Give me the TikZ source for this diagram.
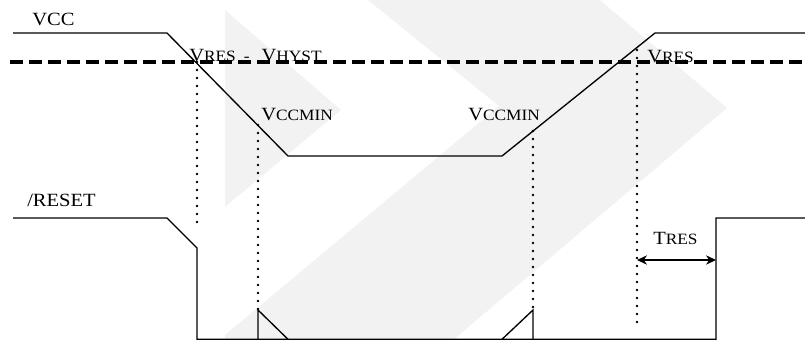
\documentclass[tikz,border=0pt]{standalone}
\usepackage{fontspec}
\setmainfont{Liberation Serif}[FakeStretch=1.1]
\usetikzlibrary{arrows.meta}
\definecolor{mark1}{RGB}{242,242,242}
\newcommand{\lo}[1]{{\fontsize{11.8}{13}\selectfont #1}}

\begin{document}
\begin{tikzpicture}[x=0.75pt, y=-0.75pt,
    wave/.style={line width=1pt, line join=miter},
    level/.style={line width=2.3pt, dash pattern=on 9.75pt off 4.5pt},
    drop/.style={line width=2.1pt, line cap=round, dash pattern=on 0pt off 6pt},
    lbl/.style={inner sep=0pt, anchor=base west, font=\fontsize{14}{16}\selectfont}]
  \useasboundingbox (0,0) rectangle (805,340);
  \fill[mark1] (225,10) -- (341,110) -- (225,207) -- cycle;
  \fill[mark1] (368,0) -- (600,0) -- (727,108) -- (453,340) -- (225,340) -- (225,335) -- (499,106) -- cycle;

  \coordinate (vhi) at (197,62);
  \coordinate (vmin1) at (258,125);
  \coordinate (vmin2) at (533,131);
  \coordinate (vres) at (637,50);
  \coordinate (pk1) at (258,310);
  \coordinate (pk2) at (533,310);
  \coordinate (rlo) at (197,228);
  \coordinate (tend) at (637,328);
  \coordinate (ta) at (637,260);
  \coordinate (tb) at (716,260);

  \draw[level] (10,62) -- (805,62);
  \draw[wave] (13,33) -- (167,33) -- (288,156) -- (502,156) -- (655,33) -- (805,33);
  \draw[wave] (13,218) -- (167,218) -- (197,248) -- (197,339.3) -- (716,339.3) -- (716,218) -- (805,218);
  \draw[wave] (258,339.3) -- (pk1) -- (288,339.3);
  \draw[wave] (502,339.3) -- (pk2) -- (533,339.3);

  \draw[drop] (vhi) -- (rlo);
  \draw[drop] (vmin1) -- (pk1);
  \draw[drop] (vmin2) -- (pk2);
  \draw[drop] (vres) -- (tend);
  \draw[{Stealth[length=7.5pt,width=7pt]}-{Stealth[length=7.5pt,width=7pt]}, line width=0.9pt] (ta) -- (tb);

  \node[lbl] (vcc) at (32,25) {VCC};
  \node[lbl] (rst) at (27,206) {/RESET};
  \node[lbl] (hyst) at (189,61) {V\lo{RES}\hspace{6pt}\lo{-}\hspace{9pt}V\lo{HYST}};
  \node[lbl] (min1) at (261,120) {V\lo{CCMIN}};
  \node[lbl] (min2) at (468,120) {V\lo{CCMIN}};
  \node[lbl] (res) at (647,62) {V\lo{RES}};
  \node[lbl] (tres) at (653,244) {T\lo{RES}};
\end{tikzpicture}
\end{document}
